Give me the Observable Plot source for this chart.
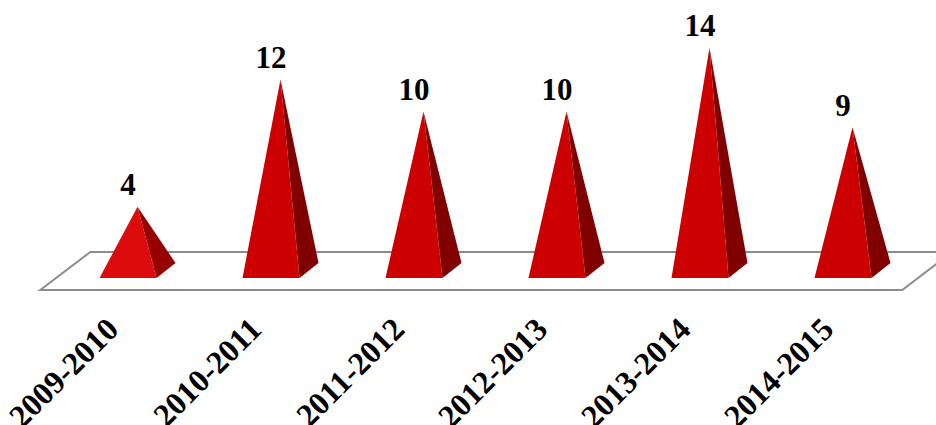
<!DOCTYPE html>
<html><head><meta charset="utf-8">
<script src="https://cdn.jsdelivr.net/npm/d3@7"></script>
<script src="https://cdn.jsdelivr.net/npm/@observablehq/plot@0.6"></script>
<style>
body{margin:0;background:#fff;}
#chart svg text{font-family:"Liberation Serif","Times New Roman",serif !important;font-weight:bold;}
</style>
</head><body><div id="chart"></div>
<script>
const categories = ["2009-2010", "2010-2011", "2011-2012", "2012-2013", "2013-2014", "2014-2015"];
const values = [4, 12, 10, 10, 14, 9];
const data = categories.map((c, i) => ({season: c, value: values[i]}));

function floorMark(index, scales) {
  const x = scales.x, y = scales.y;
  const [r0, r1] = x.range();
  const y0 = y(0);
  const g = d3.create("svg:g");
  const pts = [
    [r0 - 24, y0 + 19.5],
    [r0 + 26, y0 - 18.5],
    [r1 + 27, y0 - 18.5],
    [r1 - 23, y0 + 19.5]
  ];
  g.append("path")
    .attr("d", "M" + pts.map(p => p.join(",")).join("L") + "Z")
    .attr("fill", "#ffffff")
    .attr("stroke", "#8c8c8c")
    .attr("stroke-width", 2);
  return g.node();
}

function pyramidMark(index, scales) {
  const x = scales.x, y = scales.y;
  const bw = x.bandwidth ? x.bandwidth() : 0;
  const y0 = y(0);
  const g = d3.create("svg:g");
  data.forEach((d, i) => {
    const c = x(d.season) + bw / 2;
    const ya = y(d.value);
    const yf = y0 + 7.5, yb = y0 - 7.5;
    const front = i === 0 ? "#dc0c0c" : "#cc0000";
    const side = i === 0 ? "#960000" : "#800000";
    g.append("path")
      .attr("d", `M${c + 19},${yf}L${c + 38},${yb}L${c},${ya}Z`)
      .attr("fill", side);
    g.append("path")
      .attr("d", `M${c - 38},${yf}L${c + 19},${yf}L${c},${ya}Z`)
      .attr("fill", front);
  });
  return g.node();
}

const chart = Plot.plot({
  width: 936,
  height: 425,
  marginLeft: 64.25,
  marginRight: 10.75,
  marginTop: 0,
  marginBottom: 154.5,
  style: {fontFamily: "Liberation Serif"},
  x: {type: "band", domain: categories, padding: 0, axis: null},
  y: {domain: [0, 17], axis: null},
  marks: [
    floorMark,
    pyramidMark,
    Plot.text(data, {
      x: "season", y: "value", text: d => String(d.value),
      dx: -10, dy: -22, fontSize: 31, fontWeight: "bold",
      fontFamily: "Liberation Serif", fill: "#000"
    }),
    Plot.text(data, {
      x: "season", y: () => 0, text: "season",
      rotate: -45, textAnchor: "end", dx: -25, dy: 53,
      fontSize: 32, fontWeight: "bold",
      fontFamily: "Liberation Serif", fill: "#000"
    })
  ]
});
document.getElementById("chart").appendChild(chart);
</script>
</body></html>
